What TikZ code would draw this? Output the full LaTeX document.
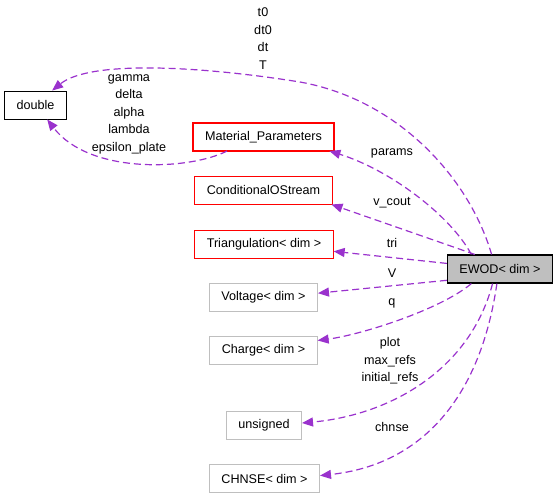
\documentclass[tikz,border=0pt]{standalone}
\usepackage{fontspec}
\setmainfont{Liberation Sans}
\usepackage{xcolor}
\usepackage{tikz}
\definecolor{edgepurple}{RGB}{154, 50, 205}
\definecolor{boxgray}{RGB}{191, 191, 191}
\definecolor{boxred}{RGB}{255, 0, 0}
\usetikzlibrary{arrows.meta, positioning}

\begin{document}
\begin{tikzpicture}[x=1pt, y=-1pt,
    box/.style={rectangle, draw, text=black, line width=0.9pt, minimum height=28pt, inner xsep=12pt, font=\fontsize{12.6}{15}\selectfont},
    redbox/.style={box, draw=boxred},
    graybox/.style={box, draw=boxgray},
    lbl/.style={inner sep=0pt, align=center, font=\fontsize{12.6}{17.5}\selectfont},
    rel/.style={draw=edgepurple, line width=1.2pt, dash pattern=on 7pt off 4pt, -{Triangle[length=11pt, width=9pt, fill=edgepurple]}}
]
    \useasboundingbox (0, 0) rectangle (560, 499);

    \node[box, draw=black] (double) at (35.5, 105) {double};
    \node[redbox, outer sep=0pt] (matparams) at (263.5, 137) {Material\_Parameters};
    \node[redbox] (condout) at (263.5, 190) {ConditionalOStream};
    \node[redbox] (triang) at (264, 244) {Triangulation< dim >};
    \node[graybox] (voltage) at (263.5, 297) {Voltage< dim >};
    \node[graybox] (charge) at (263.5, 350) {Charge< dim >};
    \node[graybox] (unsgn) at (264, 425) {unsigned};
    \node[graybox] (chnse) at (264.5, 478.5) {CHNSE< dim >};
    \node[box, draw=black, line width=1.2pt, fill=boxgray] (ewod) at (500, 269) {EWOD< dim >};
    \draw[boxred, line width=1.3pt] (matparams.south west) rectangle (matparams.north east);

    \draw[rel] (ewod.120) .. controls (470, 180) and (400, 100) .. (300, 82)
        .. controls (200, 66) and (90, 60) .. (double.41);
    \draw[rel] (matparams.201) .. controls (190, 170) and (90, 175) .. (double.-51);
    \draw[rel] (ewod.153) .. controls (450, 215) and (390, 170) .. (matparams.-12);
    \draw[rel] (ewod.150) -- (condout.-12);
    \draw[rel] (ewod.174) -- (triang.-6);
    \draw[rel] (ewod.192) -- (voltage.4);
    \draw[rel] (ewod.207) .. controls (440, 310) and (360, 335) .. (charge.10);
    \draw[rel] (ewod.243) .. controls (470, 370) and (390, 415) .. (unsgn.3);
    \draw[rel] (ewod.258) .. controls (480, 400) and (420, 465) .. (chnse.3);

    \node[lbl] (lbltime) at (263, 38.5) {t0\\dt0\\dt\\T};
    \node[lbl] (lblmat) at (129, 114) {gamma\\delta\\alpha\\lambda\\epsilon\_plate};
    \node[lbl] (lblparams) at (392, 153) {params};
    \node[lbl] (lblcout) at (392, 203) {v\_cout};
    \node[lbl] (lbltri) at (392, 243) {tri};
    \node[lbl] (lblv) at (392, 273) {V};
    \node[lbl] (lblq) at (392, 303) {q};
    \node[lbl] (lblrefs) at (390, 361) {plot\\max\_refs\\initial\_refs};
    \node[lbl] (lblchnse) at (392, 427) {chnse};
\end{tikzpicture}
\end{document}
